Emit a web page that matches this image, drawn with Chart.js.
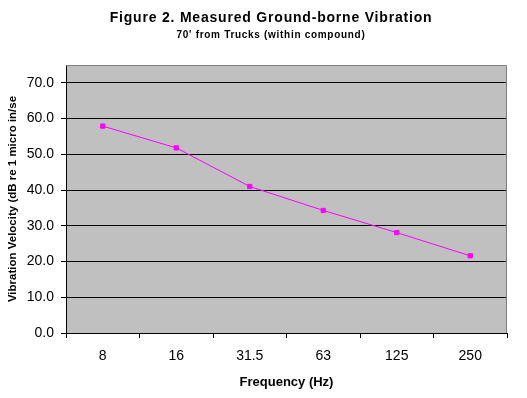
<!DOCTYPE html>
<html>
<head>
    <title>Ground-borne Vibration</title>
    <script src="https://cdn.jsdelivr.net/npm/chart.js"></script>
    <style>
        body { margin: 0; background: #fff; }
        #wrap { width: 527px; height: 398px; }
    </style>
</head>
<body>
    <div id="wrap"><canvas id="myChart" width="527" height="398"></canvas></div>
    <script>
        // chart data
        var titleText = 'Figure 2. Measured Ground-borne Vibration';
        var subtitleText = "70' from Trucks (within compound)";
        var frequencies = ['8', '16', '31.5', '63', '125', '250'];
        var velocities = [57.9, 51.8, 41.0, 34.3, 28.1, 21.6];
        var yTitle = 'Vibration Velocity (dB re 1 micro in/se';
        var xTitle = 'Frequency (Hz)';

        var FONT = '"Liberation Sans", Arial, sans-serif';

        // gray plot area with a thin gray frame, plus the two title lines
        var plotArea = {
            id: 'plotArea',
            beforeDraw: function (chart) {
                var a = chart.chartArea, ctx = chart.ctx;
                ctx.save();
                ctx.fillStyle = '#c0c0c0';
                ctx.fillRect(a.left, a.top, a.right - a.left, a.bottom - a.top);
                ctx.restore();
            },
            afterDraw: function (chart) {
                var a = chart.chartArea, ctx = chart.ctx;
                ctx.save();
                ctx.strokeStyle = '#808080';
                ctx.lineWidth = 1;
                ctx.beginPath();
                ctx.moveTo(a.left, a.top + 0.5);
                ctx.lineTo(a.right - 0.5, a.top + 0.5);
                ctx.lineTo(a.right - 0.5, a.bottom);
                ctx.stroke();

                ctx.fillStyle = '#000';
                ctx.textAlign = 'center';
                ctx.textBaseline = 'alphabetic';
                ctx.font = 'bold 14px ' + FONT;
                ctx.letterSpacing = '0.8px';
                ctx.fillText(titleText, 271, 22);
                ctx.font = 'bold 10px ' + FONT;
                ctx.letterSpacing = '0.7px';
                ctx.fillText(subtitleText, 271, 38);
                ctx.restore();
            }
        };

        var ctx = document.getElementById('myChart').getContext('2d');
        var myChart = new Chart(ctx, {
            type: 'line',
            data: {
                labels: frequencies,
                datasets: [{
                    label: 'Velocity',
                    data: velocities,
                    borderColor: '#ff00ff',
                    backgroundColor: '#ff00ff',
                    borderWidth: 1,
                    pointStyle: 'rect',
                    pointRadius: 3,
                    pointBorderWidth: 1,
                    tension: 0
                }]
            },
            options: {
                responsive: false,
                animation: false,
                layout: { padding: { top: 65, left: 0, right: 20, bottom: 0 } },
                plugins: {
                    legend: { display: false },
                    tooltip: { enabled: false }
                },
                scales: {
                    x: {
                        offset: true,
                        grid: { offset: true, drawOnChartArea: false, color: '#000', tickLength: 5 },
                        border: { color: '#000' },
                        ticks: { color: '#000', font: { family: FONT, size: 14 }, padding: 10, maxRotation: 0 },
                        title: { display: true, text: xTitle, color: '#000', font: { family: FONT, size: 13, weight: 'bold' }, padding: { top: 0, bottom: 8 } },
                        afterFit: function (scale) { scale.height = 65; }
                    },
                    y: {
                        min: 0,
                        max: 75,
                        grid: { color: '#000', tickLength: 5 },
                        border: { color: '#000' },
                        ticks: {
                            stepSize: 10,
                            color: '#000',
                            font: { family: FONT, size: 14 },
                            padding: 7,
                            callback: function (v) { return v.toFixed(1); }
                        },
                        afterBuildTicks: function (scale) {
                            scale.ticks = scale.ticks.filter(function (t) { return t.value <= 70; });
                        },
                        title: { display: true, text: yTitle, color: '#000', font: { family: FONT, size: 11.5, weight: 'bold' }, padding: { top: 6, bottom: 0 } },
                        afterFit: function (scale) { scale.width = 66; }
                    }
                }
            },
            plugins: [plotArea]
        });
    </script>
</body>
</html>
